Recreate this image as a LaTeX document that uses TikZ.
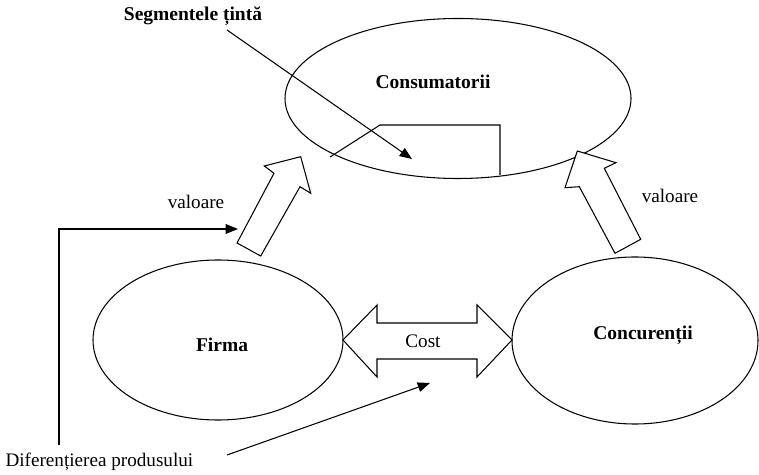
\documentclass[tikz,border=0pt]{standalone}
\usepackage{fontspec}
\setmainfont{Liberation Serif}
\usetikzlibrary{arrows.meta,shapes.geometric}
\begin{document}
\begin{tikzpicture}[x=0.02cm,y=-0.02cm,
  line width=0.6pt,
  oval/.style={draw,ellipse,inner sep=0pt},
  lbl/.style={font=\fontsize{10.9}{13}\selectfont,inner sep=0pt},
  blbl/.style={font=\fontsize{11.1}{13}\selectfont\bfseries,inner sep=0pt},
  blockarrow/.style={draw,fill=white,line width=0.6pt},
  ptr/.style={-{Triangle[length=7pt,width=5.5pt]}}]
\useasboundingbox (0,0) rectangle (759,475);
% ellipses
\node[oval,minimum width=346*0.02cm,minimum height=160*0.02cm] (cons) at (458,98.5) {};
\node[oval,minimum width=250*0.02cm,minimum height=160*0.02cm] (firma) at (218,340) {};
\node[oval,minimum width=246*0.02cm,minimum height=167*0.02cm] (conc) at (635,340.5) {};
% texts
\node[blbl] (tcons) at (433,82) {Consumatorii};
\node[blbl] (tfirma) at (222,345) {Firma};
\node[blbl] (tconc) at (643,335) {Concurenții};
\node[blbl] (tseg) at (193,16) {Segmentele țintă};
\node[lbl] (tval1) at (196,202) {valoare};
\node[lbl] (tval2) at (670,196) {valoare};
\node[lbl,anchor=west] (tdif) at (5,462) {Diferențierea produsului};
% inner segment
\draw (330,157) -- (380,125) -- (500,125) -- (500,175);
% block arrows
\draw[blockarrow] (237,243) -- (274,173.3) -- (264.3,166) -- (300.7,156.7) -- (310.7,193.3) -- (300,186.7) -- (260.7,256) -- cycle;
\draw[blockarrow] (615,253.3) -- (579.3,186.7) -- (565,187.7) -- (577.3,151) -- (616,162.7) -- (604.3,168.3) -- (640.7,239.3) -- cycle;
\draw[blockarrow] (343,340) -- (377,305) -- (377,323) -- (477,323) -- (477,305) -- (512,340) -- (477,377) -- (477,359) -- (377,359) -- (377,377) -- cycle;
\node[lbl] (tcost) at (423,341) {Cost};
% pointers
\coordinate (segstart) at (227,30);
\coordinate (segend) at (412,159);
\draw[ptr] (segstart) -- (segend);
\coordinate (difstart) at (59,445);
\coordinate (difcorner) at (59,229);
\coordinate (difend) at (238,229);
\draw[ptr] (difstart) -- (difcorner) -- (difend);
\coordinate (dif2start) at (227,455);
\coordinate (dif2end) at (430,383);
\draw[ptr] (dif2start) -- (dif2end);
\end{tikzpicture}
\end{document}
